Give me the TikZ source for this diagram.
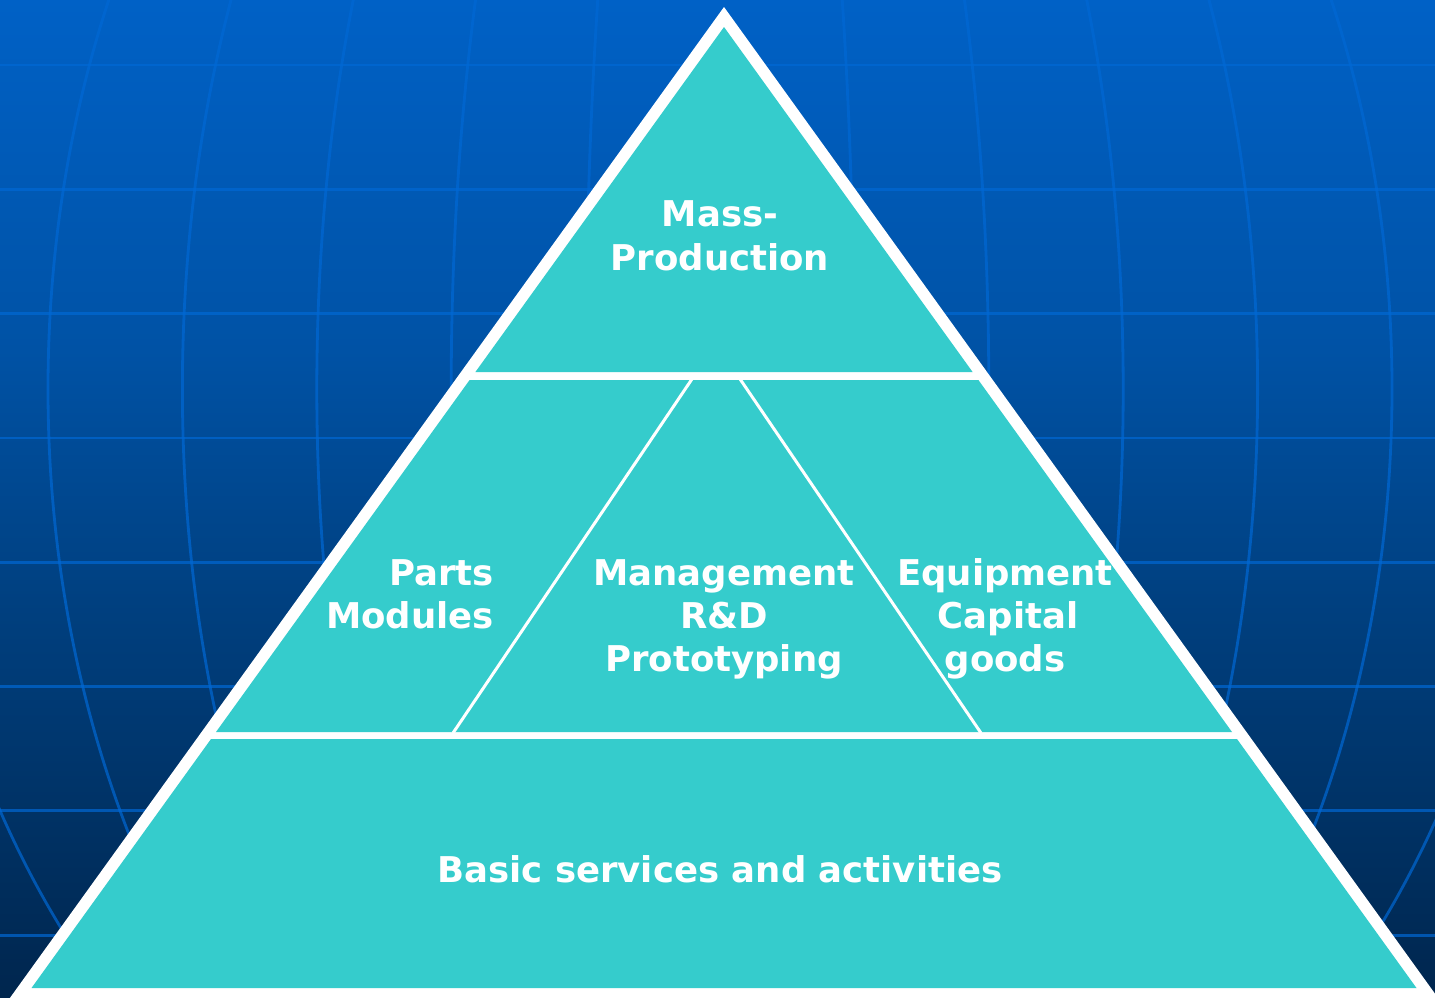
\documentclass[tikz,border=0pt]{standalone}
\usepackage{fontspec}
\setmainfont{DejaVu Sans}
\definecolor{tealfill}{RGB}{53,204,204}
\definecolor{btop}{RGB}{0,97,198}
\definecolor{bmidA}{RGB}{0,82,165}
\definecolor{bmidB}{RGB}{0,64,128}
\definecolor{bbot}{RGB}{0,38,78}
\definecolor{gridblue}{RGB}{0,104,212}
\pgfdeclareverticalshading{bgshade}{100bp}{color(0bp)=(bbot); color(25bp)=(bbot); color(44.9bp)=(bmidB); color(57.45bp)=(bmidA); color(75bp)=(btop); color(100bp)=(btop)}
\tikzset{
  gridline/.style={draw=gridblue, line width=2.8pt, opacity=0.7},
  region/.style={fill=tealfill},
  divider/.style={draw=white, line width=3pt},
  lbl/.style={text=white, font=\fontsize{35.5}{42}\selectfont\bfseries, inner sep=0pt, anchor=base},
  lblr/.style={lbl, anchor=base east}
}
\begin{document}
\begin{tikzpicture}[x=1pt,y=-1pt]
\useasboundingbox (0,0) rectangle (1435,997);
\begin{scope}
\clip (0,0) rectangle (1435,997);
\shade[shading=bgshade] (0,0) rectangle (1435,997);
\foreach \i in {0,...,7} {
  \draw[gridline] (0,{65+124.3*\i}) -- (1435,{65+124.3*\i});
}
\foreach \k in {1,...,6} {
  \draw[gridline] (720,389) ellipse [x radius={134.4*\k}, y radius=935];
}
% outer white triangle
\fill[white] (724,7) -- (3.4,1007) -- (1444.6,1007) -- cycle;
% top region
\fill[region] (724,27) -- (475.4,372) -- (972.6,372) -- cycle;
% middle band
\fill[region] (469.6,380) -- (978.4,380) -- (1232,732) -- (216,732) -- cycle;
% bottom band
\fill[region] (211,739) -- (1237,739) -- (1416.5,988) -- (31.5,988) -- cycle;
\end{scope}
% inner dividers of the middle band
\coordinate (mtl) at (692,379);
\coordinate (mbl) at (453,733);
\coordinate (mtr) at (740,379);
\coordinate (mbr) at (981,733);
\draw[divider] (mtl) -- (mbl);
\draw[divider] (mtr) -- (mbr);
% labels
\node[lbl] (mass1) at (720,226) {Mass-};
\node[lbl] (mass2) at (720,270) {Production};
\node[lblr] (parts1) at (494,585) {Parts};
\node[lblr] (parts2) at (494,628) {Modules};
\node[lbl] (mgmt1) at (724,585) {Management};
\node[lbl] (mgmt2) at (724,628) {R\&D};
\node[lbl] (mgmt3) at (724,671) {Prototyping};
\node[lbl] (eq1) at (1005,585) {Equipment};
\node[lbl] (eq2) at (1008,628) {Capital};
\node[lbl] (eq3) at (1005,671) {goods};
\node[lbl] (basic) at (720,882) {Basic services and activities};
\end{tikzpicture}
\end{document}
